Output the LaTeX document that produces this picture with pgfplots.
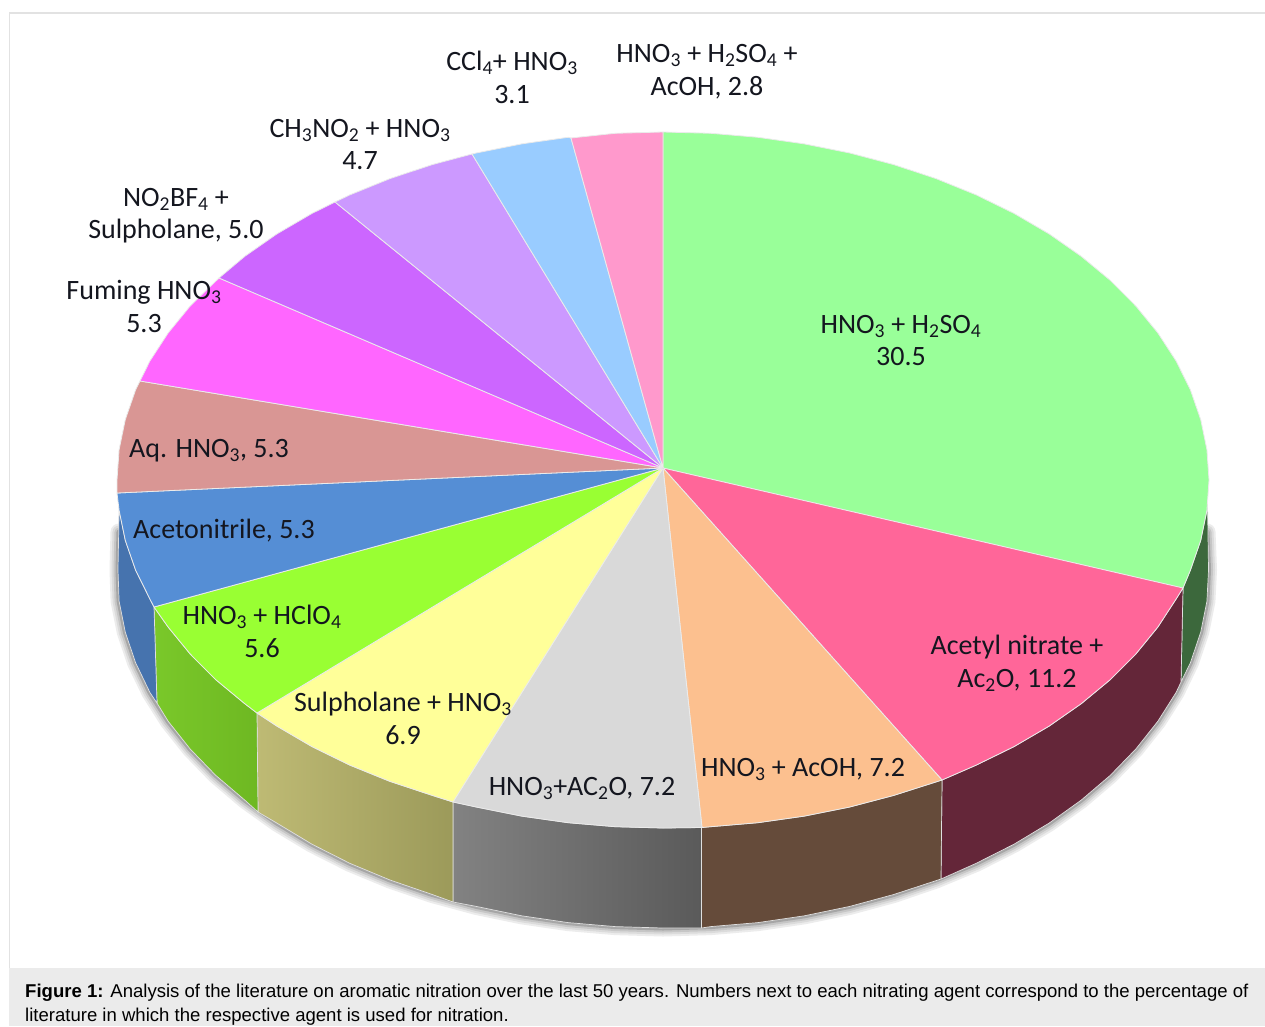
\documentclass[border=0pt]{standalone}
\usepackage{pgfplots}
\usepackage{pgfplotstable}
\pgfplotsset{compat=1.18}
\usepackage{fontspec}
\setmainfont{Carlito}
\newfontfamily\capfont{Liberation Sans}
\newcommand\s[1]{\textsubscript{#1}}
\definecolor{lab}{HTML}{14161F}
\definecolor{borderc}{HTML}{E2E2E2}
\definecolor{capbg}{HTML}{EBEBEB}
\definecolor{sgreen}{RGB}{60,104,60}
\definecolor{smaroon}{RGB}{100,38,57}
\definecolor{sbrown}{RGB}{101,75,58}
\definecolor{sblue}{RGB}{70,115,174}
\definecolor{w1}{RGB}{153,255,153}
\definecolor{w2}{RGB}{255,102,153}
\definecolor{w3}{RGB}{252,192,143}
\definecolor{w4}{RGB}{217,217,217}
\definecolor{w5}{RGB}{255,255,153}
\definecolor{w6}{RGB}{153,255,51}
\definecolor{w7}{RGB}{85,142,213}
\definecolor{w8}{RGB}{217,150,148}
\definecolor{w9}{RGB}{255,102,255}
\definecolor{w10}{RGB}{204,102,255}
\definecolor{w11}{RGB}{204,153,255}
\definecolor{w12}{RGB}{153,204,255}
\definecolor{w13}{RGB}{255,153,204}
\definecolor{ga}{RGB}{130,130,130}
\definecolor{gb}{RGB}{90,90,90}
\definecolor{ka}{RGB}{190,186,116}
\definecolor{kb}{RGB}{156,154,90}
\definecolor{la}{RGB}{122,200,42}
\definecolor{lb}{RGB}{110,184,34}
\pgfplotsset{
  wedge/.style={draw=white!92!black, line width=0.8pt, line join=round, fill=#1},
  side/.style={draw=white!75!gray, line width=0.7pt, line join=round, fill=#1},
}
\newcommand\lbl[3]{\node[anchor=base,font=\fontsize{28}{32}\selectfont,text=lab,inner sep=0pt] at (axis cs:#1,#2) {#3};}
\pgfplotstableread{
x y
1207 532
1208.5 570
1206.9 601.2
1200.7 632.2
1190.4 662.7
1176.1 692.4
1157.8 721.3
1135.8 749
1110.3 775.3
1081.2 800.1
1049.1 823.1
1014 844.2
976.2 863.3
936 880
893.7 894.5
849.7 906.4
804.3 915.8
757.8 922.6
710.6 926.6
663 928
615.4 926.6
568.2 922.6
521.7 915.8
476.3 906.4
432.3 894.5
390 880
349.8 863.3
312 844.2
276.9 823.1
244.8 800.1
215.7 775.3
190.2 749
168.2 721.3
149.9 692.4
135.6 662.7
125.3 632.2
119.1 601.2
118 570
119 532
}\rim
\begin{document}
\begin{tikzpicture}
\begin{axis}[
  scale only axis, width=1265pt, height=1026pt,
  xmin=0, xmax=1265, ymin=0, ymax=1026, y dir=reverse,
  hide axis, clip=true,
]
% page and frame
\addplot[fill=white, draw=none] coordinates {(0,0)(1265,0)(1265,1026)(0,1026)} --cycle;
\addplot[draw=borderc, line width=1.5pt] coordinates {(1265,13)(9.5,13)(9.5,968)};
\addplot[fill=capbg, draw=none] coordinates {(9,968)(1265,968)(1265,1026)(9,1026)} --cycle;

% shadow under the pie (stacked strokes of the lower rim)
\addplot[draw=gray!15, line width=17pt, line join=round, line cap=round] table[x=x,y=y] {\rim};
\addplot[draw=gray!28, line width=13pt, line join=round, line cap=round] table[x=x,y=y] {\rim};
\addplot[draw=gray!45, line width=9pt, line join=round, line cap=round] table[x=x,y=y] {\rim};
\addplot[draw=gray!70, line width=5pt, line join=round, line cap=round] table[x=x,y=y] {\rim};

% side walls
\addplot[side=sgreen] coordinates {(1183,588)(1190.4,570.1)(1200.7,540.4)(1206.9,510.3)(1207.5,503)(1208.5,570)(1206.9,601.2)(1200.7,632.2)(1190.4,662.7)(1181,682)} --cycle;
\addplot[side=smaroon] coordinates {(1183,588)(1176.1,599)(1157.8,627.1)(1135.8,654)(1110.3,679.6)(1081.2,703.7)(1049.1,726.1)(1014,746.6)(976.2,765.1)(942,780)(941,879)(976.2,863.3)(1014,844.2)(1049.1,823.1)(1081.2,800.1)(1110.3,775.3)(1135.8,749)(1157.8,721.3)(1176.1,692.4)(1181,682)} --cycle;
\addplot[side=sbrown] coordinates {(942,780)(893.7,795.4)(849.7,807)(804.3,816.1)(757.8,822.7)(710.6,826.7)(701.5,827.5)(701.5,928)(710.6,926.6)(757.8,922.6)(804.3,915.8)(849.7,906.4)(893.7,894.5)(941,879)} --cycle;
\addplot[draw=white!75!gray, line width=0.7pt, left color=ga, right color=gb] coordinates {(701.5,827.5)(663,828)(615.4,826.7)(568.2,822.7)(521.7,816.1)(476.3,807)(453,802)(453,902)(476.3,906.4)(521.7,915.8)(568.2,922.6)(615.4,926.6)(663,928)(701.5,928)} --cycle;
\addplot[draw=white!75!gray, line width=0.7pt, left color=ka, right color=kb] coordinates {(453,802)(432.3,795.4)(390,781.4)(349.8,765.1)(312,746.6)(276.9,726.1)(257,713)(258,812)(276.9,823.1)(312,844.2)(349.8,863.3)(390,880)(432.3,894.5)(453,902)} --cycle;
\addplot[draw=white!75!gray, line width=0.7pt, left color=la, right color=lb] coordinates {(257,713)(244.8,703.7)(215.7,679.6)(190.2,654)(168.2,627.1)(154,607)(157,703)(168.2,721.3)(190.2,749)(215.7,775.3)(244.8,800.1)(258,812)} --cycle;
\addplot[side=sblue] coordinates {(154,607)(149.9,599)(135.6,570.1)(125.3,540.4)(119.1,510.3)(118,570)(119.1,601.2)(125.3,632.2)(135.6,662.7)(149.9,692.4)(157,703)} --cycle;

% top wedges
\addplot[wedge=w1] coordinates {(663,468)(663,132)(710.6,133.3)(757.8,137.3)(804.3,143.9)(849.7,153)(893.7,164.6)(936,178.6)(976.2,194.9)(1014,213.4)(1049.1,233.9)(1081.2,256.3)(1110.3,280.4)(1135.8,306)(1157.8,332.9)(1176.1,361)(1190.4,389.9)(1200.7,419.6)(1206.9,449.7)(1209,480)(1206.9,510.3)(1200.7,540.4)(1190.4,570.1)(1183,588)} --cycle;
\addplot[wedge=w2] coordinates {(663,468)(1183,588)(1176.1,599)(1157.8,627.1)(1135.8,654)(1110.3,679.6)(1081.2,703.7)(1049.1,726.1)(1014,746.6)(976.2,765.1)(942,780)} --cycle;
\addplot[wedge=w3] coordinates {(663,468)(942,780)(893.7,795.4)(849.7,807)(804.3,816.1)(757.8,822.7)(710.6,826.7)(702,827.5)} --cycle;
\addplot[wedge=w4] coordinates {(663,468)(702,827.5)(663,828)(615.4,826.7)(568.2,822.7)(521.7,816.1)(476.3,807)(453,802)} --cycle;
\addplot[wedge=w5] coordinates {(663,468)(453,802)(432.3,795.4)(390,781.4)(349.8,765.1)(312,746.6)(276.9,726.1)(257,713)} --cycle;
\addplot[wedge=w6] coordinates {(663,468)(257,713)(244.8,703.7)(215.7,679.6)(190.2,654)(168.2,627.1)(154,607)} --cycle;
\addplot[wedge=w7] coordinates {(663,468)(154,607)(149.9,599)(135.6,570.1)(125.3,540.4)(119.1,510.3)(117,493)} --cycle;
\addplot[wedge=w8] coordinates {(663,468)(117,493)(117,480)(119.1,449.7)(125.3,419.6)(135.6,389.9)(140,381)} --cycle;
\addplot[wedge=w9] coordinates {(663,468)(140,381)(149.9,361)(168.2,332.9)(190.2,306)(219,278)} --cycle;
\addplot[wedge=w10] coordinates {(663,468)(219,278)(244.8,256.3)(276.9,233.9)(312,213.4)(335,202)} --cycle;
\addplot[wedge=w11] coordinates {(663,468)(335,202)(349.8,194.9)(390,178.6)(432.3,164.6)(472,154)} --cycle;
\addplot[wedge=w12] coordinates {(663,468)(472,154)(476.3,153)(521.7,143.9)(568.2,137.3)(571,138)} --cycle;
\addplot[wedge=w13] coordinates {(663,468)(571,138)(615.4,133.3)(663,132)} --cycle;

% labels
\lbl{901}{333}{HNO\s{3} + H\s{2}SO\s{4}}
\lbl{901}{365}{30.5}
\lbl{1017}{654}{Acetyl nitrate +}
\lbl{1017}{687}{Ac\s{2}O, 11.2}
\lbl{803}{776}{HNO\s{3} + AcOH, 7.2}
\lbl{582}{795}{HNO\s{3}+AC\s{2}O, 7.2}
\lbl{403}{711}{Sulpholane + HNO\s{3}}
\lbl{403}{744}{6.9}
\lbl{262}{624}{HNO\s{3} + HClO\s{4}}
\lbl{262}{657}{5.6}
\lbl{224}{538}{Acetonitrile, 5.3}
\lbl{209}{457}{Aq. HNO\s{3}, 5.3}
\lbl{144}{299}{Fuming HNO\s{3}}
\lbl{144}{332}{5.3}
\lbl{176}{206}{NO\s{2}BF\s{4} +}
\lbl{176}{238}{Sulpholane, 5.0}
\lbl{360}{137}{CH\s{3}NO\s{2} + HNO\s{3}}
\lbl{360}{169}{4.7}
\lbl{512}{70}{CCl\s{4}+ HNO\s{3}}
\lbl{512}{103}{3.1}
\lbl{707}{62}{HNO\s{3} + H\s{2}SO\s{4} +}
\lbl{707}{95}{AcOH, 2.8}

% caption
\node[anchor=base west,inner sep=0pt,font=\capfont\fontsize{18.55}{24}\selectfont] at (axis cs:25,997) {\textbf{Figure 1:} Analysis of the literature on aromatic nitration over the last 50 years. Numbers next to each nitrating agent correspond to the percentage of};
\node[anchor=base west,inner sep=0pt,font=\capfont\fontsize{18.55}{24}\selectfont] at (axis cs:25,1021) {literature in which the respective agent is used for nitration.};
\end{axis}
\end{tikzpicture}
\end{document}
